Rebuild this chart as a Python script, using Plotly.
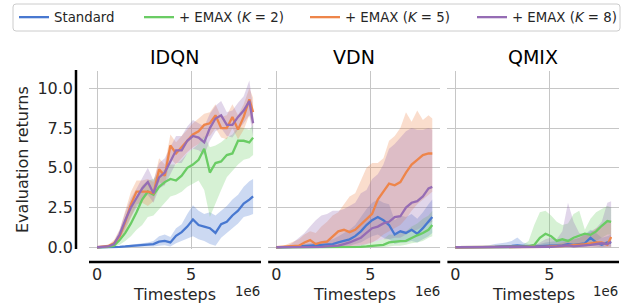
import plotly.graph_objects as go

# ---------------- data (timesteps in units of 1e6) ----------------
TIMESTEPS = [0.0, 0.3, 0.6, 0.9, 1.2, 1.5, 1.8, 2.1, 2.4, 2.7, 3.0, 3.3, 3.6, 3.9, 4.2,
             4.5, 4.8, 5.1, 5.4, 5.7, 6.0, 6.3, 6.6, 6.9, 7.2, 7.5, 7.8, 8.1, 8.3]

PANELS = ["IDQN", "VDN", "QMIX"]
SERIES = ["Standard", "+ EMAX (<i>K</i> = 2)", "+ EMAX (<i>K</i> = 5)", "+ EMAX (<i>K</i> = 8)"]
COLORS = ["#4878d0", "#6acc64", "#ee854a", "#956cb4"]
X_TICKS = [0, 5]
X_TICK_LABELS = ["0", "5"]
Y_TICKS = [0, 2.5, 5, 7.5, 10]
Y_TICK_LABELS = ["0.0", "2.5", "5.0", "7.5", "10.0"]

# IDQN
IDQN_STD_MEAN = [0, 0, 0, 0.01, 0.03, 0.05, 0.08, 0.1, 0.12, 0.15, 0.2, 0.35, 0.4, 0.3, 0.72, 0.95, 1.3, 1.75, 1.4, 1.3, 1.2, 0.9, 1.45, 1.6, 2.0, 2.3, 2.75, 3.0, 3.2]
IDQN_STD_LO = [0, 0, 0, 0, 0, 0, 0.02, 0.02, 0.03, 0.05, 0.05, 0.1, 0.12, 0.05, 0.25, 0.35, 0.55, 0.7, 0.5, 0.4, 0.2, 0.1, 0.6, 0.9, 1.2, 1.5, 1.9, 2.0, 2.1]
IDQN_STD_HI = [0, 0, 0.01, 0.03, 0.07, 0.12, 0.18, 0.22, 0.25, 0.3, 0.4, 0.7, 0.8, 0.65, 1.2, 1.45, 2.1, 2.65, 2.3, 2.1, 2.2, 2.0, 2.3, 2.6, 3.0, 3.3, 3.8, 4.15, 4.3]
IDQN_K2_MEAN = [0, 0, 0.02, 0.1, 0.45, 0.9, 1.5, 2.2, 3.0, 3.5, 3.3, 3.8, 4.1, 4.3, 4.2, 4.5, 5.0, 5.2, 5.5, 6.2, 4.7, 5.3, 5.4, 5.8, 5.9, 6.7, 6.7, 6.6, 6.9]
IDQN_K2_LO = [0, 0, 0, 0.02, 0.15, 0.4, 0.7, 1.1, 1.4, 1.9, 2.0, 2.4, 2.8, 3.2, 3.3, 3.5, 3.8, 4.0, 4.2, 3.6, 1.9, 2.8, 3.6, 4.4, 4.8, 5.2, 5.5, 5.6, 5.8]
IDQN_K2_HI = [0, 0.01, 0.05, 0.25, 0.8, 1.5, 2.4, 3.2, 3.9, 4.2, 4.3, 4.7, 4.9, 5.2, 5.2, 5.5, 5.9, 6.2, 6.5, 7.0, 6.3, 6.4, 6.6, 6.9, 7.1, 7.6, 7.5, 7.4, 7.7]
IDQN_K5_MEAN = [0, 0.02, 0.08, 0.25, 0.7, 1.6, 2.7, 3.5, 3.5, 3.5, 3.4, 4.9, 4.5, 6.4, 5.9, 6.3, 6.7, 7.1, 7.3, 7.7, 7.8, 8.3, 7.5, 7.5, 8.2, 7.4, 8.2, 9.3, 8.5]
IDQN_K5_LO = [0, 0, 0.03, 0.1, 0.4, 1.0, 1.9, 2.7, 2.8, 2.6, 2.9, 4.1, 3.9, 5.6, 5.2, 5.6, 6.0, 6.3, 6.5, 6.9, 7.0, 7.5, 6.9, 6.8, 7.5, 6.8, 7.4, 8.3, 7.6]
IDQN_K5_HI = [0, 0.05, 0.15, 0.45, 1.1, 2.3, 3.5, 4.2, 4.2, 4.3, 4.1, 5.6, 5.2, 7.1, 6.6, 7.0, 7.4, 7.8, 8.1, 8.4, 8.5, 9.0, 8.2, 8.3, 9.0, 8.3, 9.0, 10.0, 9.4]
IDQN_K8_MEAN = [0, 0.01, 0.05, 0.2, 0.8, 1.7, 2.5, 3.1, 3.7, 4.1, 3.4, 4.4, 4.7, 5.4, 6.1, 6.1, 6.7, 7.0, 6.9, 6.6, 7.5, 8.1, 8.3, 7.7, 7.7, 8.2, 8.6, 9.2, 7.8]
IDQN_K8_LO = [0, 0, 0.02, 0.1, 0.5, 1.2, 1.9, 2.5, 3.0, 3.3, 2.8, 3.7, 3.9, 4.6, 5.3, 5.3, 5.9, 6.2, 6.1, 5.8, 6.7, 7.3, 7.5, 7.0, 6.9, 7.4, 7.8, 8.3, 7.0]
IDQN_K8_HI = [0, 0.03, 0.1, 0.35, 1.1, 2.2, 3.1, 3.7, 4.4, 5.0, 4.2, 5.3, 5.6, 6.3, 7.0, 7.0, 7.6, 8.0, 7.8, 7.6, 8.4, 8.9, 9.2, 8.5, 8.6, 9.1, 9.5, 10.5, 8.8]

# VDN
VDN_STD_MEAN = [0, 0, 0.02, 0.03, 0.05, 0.08, 0.1, 0.12, 0.15, 0.18, 0.2, 0.3, 0.4, 0.5, 0.7, 1.0, 1.4, 1.7, 1.9, 1.7, 1.4, 0.8, 1.0, 0.9, 1.1, 0.85, 1.2, 1.6, 1.9]
VDN_STD_LO = [0, 0, 0, 0, 0, 0, 0, 0, 0, 0, 0.02, 0.05, 0.08, 0.1, 0.2, 0.3, 0.5, 0.7, 0.8, 0.6, 0.5, 0.2, 0.3, 0.3, 0.4, 0.3, 0.5, 0.7, 0.9]
VDN_STD_HI = [0, 0.02, 0.08, 0.1, 0.12, 0.2, 0.25, 0.3, 0.4, 0.45, 0.5, 0.7, 0.9, 1.1, 1.4, 1.9, 2.4, 2.8, 3.0, 2.8, 2.7, 1.7, 2.0, 1.9, 2.1, 1.8, 2.2, 2.7, 3.0]
VDN_K2_MEAN = [0, 0, 0, 0, 0, 0, 0, 0, 0, 0, 0, 0, 0.01, 0.02, 0.02, 0.03, 0.05, 0.08, 0.1, 0.15, 0.3, 0.35, 0.38, 0.4, 0.6, 0.75, 0.9, 1.1, 1.4]
VDN_K2_LO = [0, 0, 0, 0, 0, 0, 0, 0, 0, 0, 0, 0, 0, 0, 0, 0, 0, 0, 0, 0, 0.05, 0.1, 0.1, 0.15, 0.25, 0.3, 0.4, 0.6, 0.7]
VDN_K2_HI = [0, 0, 0, 0, 0, 0, 0, 0, 0, 0, 0, 0.02, 0.03, 0.05, 0.1, 0.15, 0.2, 0.3, 0.4, 0.5, 0.8, 0.8, 0.9, 1.0, 1.3, 1.5, 1.8, 2.0, 2.3]
VDN_K5_MEAN = [0, 0.02, 0.05, 0.08, 0.1, 0.3, 0.45, 0.2, 0.3, 0.35, 0.66, 1.0, 1.1, 0.95, 1.1, 1.45, 1.8, 2.1, 3.0, 3.5, 4.0, 3.9, 4.1, 4.7, 5.2, 5.5, 5.8, 5.9, 5.9]
VDN_K5_LO = [0, 0, 0, 0, 0, 0, 0, 0, 0, 0, 0, 0, 0.02, 0.05, 0.1, 0.15, 0.2, 0.3, 0.5, 0.8, 1.0, 1.2, 1.4, 1.8, 2.3, 2.7, 3.0, 3.3, 3.5]
VDN_K5_HI = [0, 0.05, 0.2, 0.35, 0.5, 0.8, 1.0, 0.9, 1.3, 1.6, 2.0, 2.2, 2.7, 3.2, 3.4, 4.2, 5.0, 5.3, 5.3, 5.6, 6.7, 7.0, 7.5, 8.5, 7.9, 8.6, 8.0, 8.3, 8.1]
VDN_K8_MEAN = [0, 0, 0, 0, 0, 0, 0.01, 0.02, 0.03, 0.05, 0.08, 0.1, 0.2, 0.3, 0.45, 0.6, 0.9, 1.2, 1.3, 1.5, 1.6, 1.9, 1.95, 2.5, 2.8, 2.9, 3.2, 3.7, 3.8]
VDN_K8_LO = [0, 0, 0, 0, 0, 0, 0, 0, 0, 0, 0, 0, 0, 0, 0.05, 0.1, 0.2, 0.3, 0.4, 0.5, 0.5, 0.6, 0.6, 0.8, 1.0, 1.1, 1.3, 1.5, 1.6]
VDN_K8_HI = [0, 0.02, 0.1, 0.3, 0.6, 0.9, 1.3, 1.7, 2.0, 2.1, 2.3, 2.3, 2.4, 2.6, 2.8, 3.4, 3.6, 4.3, 4.6, 5.2, 6.2, 6.5, 6.9, 7.3, 7.5, 7.4, 7.4, 7.5, 7.4]

# QMIX
QMIX_STD_MEAN = [0, 0, 0, 0, 0, 0.01, 0.02, 0.03, 0.05, 0.05, 0.08, 0.12, 0.08, 0.05, 0.05, 0.05, 0.08, 0.1, 0.1, 0.12, 0.2, 0.15, 0.2, 0.25, 0.6, 0.3, 0.15, 0.3, 0.3]
QMIX_STD_LO = [0, 0, 0, 0, 0, 0, 0, 0, 0, 0, 0, 0, 0, 0, 0, 0, 0, 0, 0, 0, 0, 0, 0.02, 0.05, 0.1, 0.05, 0, 0.05, 0.05]
QMIX_STD_HI = [0, 0, 0.02, 0.03, 0.05, 0.08, 0.12, 0.2, 0.25, 0.3, 0.4, 0.62, 0.3, 0.2, 0.2, 0.2, 0.3, 0.35, 0.4, 0.4, 0.5, 0.5, 0.6, 0.8, 1.1, 0.9, 0.6, 0.7, 0.8]
QMIX_K2_MEAN = [0, 0, 0, 0, 0, 0, 0.01, 0.01, 0.02, 0.02, 0.02, 0.02, 0.02, 0.05, 0.15, 0.6, 0.85, 0.7, 0.4, 0.5, 0.4, 0.6, 0.75, 0.85, 0.78, 1.0, 1.35, 1.65, 1.6]
QMIX_K2_LO = [0, 0, 0, 0, 0, 0, 0, 0, 0, 0, 0, 0, 0, 0, 0, 0, 0, 0, 0, 0, 0.05, 0.1, 0.2, 0.3, 0.3, 0.4, 0.6, 0.8, 0.8]
QMIX_K2_HI = [0, 0, 0, 0, 0.02, 0.03, 0.05, 0.05, 0.08, 0.08, 0.1, 0.1, 0.15, 0.4, 1.4, 2.2, 2.3, 2.0, 1.6, 1.4, 1.5, 2.1, 2.3, 1.1, 1.8, 2.2, 2.4, 2.6, 2.5]
QMIX_K5_MEAN = [0, 0, 0, 0, 0, 0, 0, 0, 0, 0, 0, 0, 0, 0, 0.01, 0.02, 0.03, 0.05, 0.05, 0.08, 0.1, 0.12, 0.15, 0.2, 0.25, 0.3, 0.3, 0.15, 0.65]
QMIX_K5_LO = [0, 0, 0, 0, 0, 0, 0, 0, 0, 0, 0, 0, 0, 0, 0, 0, 0, 0, 0, 0, 0, 0, 0, 0, 0, 0, 0, 0, 0]
QMIX_K5_HI = [0, 0, 0, 0, 0, 0, 0, 0, 0, 0, 0, 0, 0, 0.02, 0.05, 0.08, 0.1, 0.15, 0.2, 0.3, 0.4, 0.5, 0.6, 0.8, 0.9, 1.2, 1.4, 1.6, 1.7]
QMIX_K8_MEAN = [0, 0, 0, 0, 0, 0, 0, 0, 0, 0, 0, 0, 0, 0, 0, 0, 0.02, 0.03, 0.05, 0.08, 0.12, 0.05, 0.1, 0.12, 0.15, 0.2, 0.25, 0.2, 0.35]
QMIX_K8_LO = [0, 0, 0, 0, 0, 0, 0, 0, 0, 0, 0, 0, 0, 0, 0, 0, 0, 0, 0, 0, 0, 0, 0, 0, 0, 0, 0, 0, 0]
QMIX_K8_HI = [0, 0, 0, 0, 0, 0, 0, 0, 0, 0, 0, 0, 0, 0.05, 0.1, 0.3, 0.5, 0.6, 0.5, 1.0, 2.8, 1.6, 0.9, 0.8, 1.0, 1.2, 1.6, 2.8, 2.9]

DATA = {
    "IDQN": [(IDQN_STD_MEAN, IDQN_STD_LO, IDQN_STD_HI), (IDQN_K2_MEAN, IDQN_K2_LO, IDQN_K2_HI),
             (IDQN_K5_MEAN, IDQN_K5_LO, IDQN_K5_HI), (IDQN_K8_MEAN, IDQN_K8_LO, IDQN_K8_HI)],
    "VDN": [(VDN_STD_MEAN, VDN_STD_LO, VDN_STD_HI), (VDN_K2_MEAN, VDN_K2_LO, VDN_K2_HI),
            (VDN_K5_MEAN, VDN_K5_LO, VDN_K5_HI), (VDN_K8_MEAN, VDN_K8_LO, VDN_K8_HI)],
    "QMIX": [(QMIX_STD_MEAN, QMIX_STD_LO, QMIX_STD_HI), (QMIX_K2_MEAN, QMIX_K2_LO, QMIX_K2_HI),
             (QMIX_K5_MEAN, QMIX_K5_LO, QMIX_K5_HI), (QMIX_K8_MEAN, QMIX_K8_LO, QMIX_K8_HI)],
}

# ---------------- layout geometry ----------------
W, H = 625, 305
ML, MR, MT, MB = 89, 6, 71, 56
PW = W - ML - MR          # plot width (px)
PH = H - MT - MB          # plot height (px)
DOMAINS = [[0.0, 0.3245], [0.3381, 0.6626], [0.6762, 1.0]]
FONT = "DejaVu Sans"


def rgba(hex_color, a):
    h = hex_color.lstrip("#")
    r, g, b = int(h[0:2], 16), int(h[2:4], 16), int(h[4:6], 16)
    return f"rgba({r},{g},{b},{a})"


def py_to_paper(py):
    return (MT + PH - py) / PH


def px_to_paper(px):
    return (px - ML) / PW


fig = go.Figure()

for i, panel in enumerate(PANELS):
    xa = "x" if i == 0 else f"x{i+1}"
    ya = "y" if i == 0 else f"y{i+1}"
    for j, (mean, lo, hi) in enumerate(DATA[panel]):
        fig.add_trace(go.Scatter(
            x=TIMESTEPS + TIMESTEPS[::-1], y=hi + lo[::-1],
            fill="toself", fillcolor=rgba(COLORS[j], 0.28),
            line=dict(width=0), mode="lines", hoverinfo="skip",
            showlegend=False, xaxis=xa, yaxis=ya))
    for j, (mean, lo, hi) in enumerate(DATA[panel]):
        fig.add_trace(go.Scatter(
            x=TIMESTEPS, y=mean, mode="lines",
            line=dict(color=COLORS[j], width=2.3),
            name=SERIES[j], showlegend=(i == 0),
            legend="legend" if j == 0 else f"legend{j+1}",
            xaxis=xa, yaxis=ya))

axis_common = dict(showline=False, zeroline=False, ticks="",
                   showgrid=True, gridcolor="#c6c6c6", gridwidth=1)

layout = dict(
    width=W, height=H,
    margin=dict(l=ML, r=MR, t=MT, b=MB),
    paper_bgcolor="white", plot_bgcolor="white",
    font=dict(family=FONT, size=16, color="#262626"),
    annotations=[], shapes=[],
)

for i in range(3):
    xk = "xaxis" if i == 0 else f"xaxis{i+1}"
    yk = "yaxis" if i == 0 else f"yaxis{i+1}"
    layout[xk] = dict(axis_common, domain=DOMAINS[i], range=[-0.43, 8.72],
                      tickvals=X_TICKS, ticktext=X_TICK_LABELS,
                      anchor="y" if i == 0 else f"y{i+1}",
                      ticklabelstandoff=14, tickfont=dict(size=16, color="#262626"))
    layout[yk] = dict(axis_common, domain=[0, 1], range=[-0.11, 11.09],
                      tickvals=Y_TICKS, ticktext=Y_TICK_LABELS,
                      anchor="x" if i == 0 else f"x{i+1}",
                      showticklabels=(i == 0),
                      ticklabelstandoff=15, tickfont=dict(size=16, color="#262626"))
    if i > 0:
        layout[yk]["matches"] = "y"

    d0, d1 = DOMAINS[i]
    layout["annotations"].append(dict(
        text=PANELS[i], x=(d0 + d1) / 2, y=py_to_paper(57), xref="paper", yref="paper",
        showarrow=False, xanchor="center", yanchor="middle",
        font=dict(size=19, color="#000000")))
    layout["annotations"].append(dict(
        text="Timesteps", x=(d0 + d1) / 2, y=py_to_paper(294), xref="paper", yref="paper",
        showarrow=False, xanchor="center", yanchor="middle",
        font=dict(size=16, color="#262626")))
    layout["annotations"].append(dict(
        text="1e6", x=d0 + 0.924 * (d1 - d0), y=py_to_paper(291), xref="paper", yref="paper",
        showarrow=False, xanchor="center", yanchor="middle",
        font=dict(size=13.3, color="#262626")))
    layout["shapes"].append(dict(
        type="line", xref=f"x{'' if i == 0 else i+1} domain", yref="paper",
        x0=0, x1=1, y0=py_to_paper(262), y1=py_to_paper(262),
        line=dict(color="black", width=2.5)))

layout["annotations"].append(dict(
    text="Evaluation returns", x=px_to_paper(22), y=0.5, xref="paper", yref="paper",
    showarrow=False, textangle=-90, xanchor="center", yanchor="middle",
    font=dict(size=16, color="#262626")))

layout["shapes"].append(dict(
    type="line", xref="paper", yref="paper",
    x0=px_to_paper(76), x1=px_to_paper(76), y0=0, y1=py_to_paper(70),
    line=dict(color="black", width=2.5)))

# legend frame (rounded)
lx0, lx1 = px_to_paper(13), px_to_paper(620)
ly0, ly1 = py_to_paper(31), py_to_paper(4)
rx, ry = 3 / PW, 3 / PH
path = (f"M{lx0+rx},{ly1} L{lx1-rx},{ly1} Q{lx1},{ly1} {lx1},{ly1-ry} "
        f"L{lx1},{ly0+ry} Q{lx1},{ly0} {lx1-rx},{ly0} "
        f"L{lx0+rx},{ly0} Q{lx0},{ly0} {lx0},{ly0+ry} "
        f"L{lx0},{ly1-ry} Q{lx0},{ly1} {lx0+rx},{ly1} Z")
layout["shapes"].append(dict(type="path", path=path, xref="paper", yref="paper",
                             line=dict(color="#cccccc", width=1),
                             fillcolor="rgba(255,255,255,0.8)", layer="above"))

LEGEND_X = [14, 139, 305, 472]
for j in range(4):
    key = "legend" if j == 0 else f"legend{j+1}"
    layout[key] = dict(
        orientation="h", xref="container", yref="container",
        x=LEGEND_X[j] / W, y=1 - 17.5 / H, xanchor="left", yanchor="middle",
        bgcolor="rgba(0,0,0,0)", borderwidth=0,
        font=dict(family=FONT, size=13.3, color="#262626"),
        itemclick=False, itemdoubleclick=False)

fig.update_layout(**layout)
fig.write_html("out.html", config={"displayModeBar": False},
               post_script="document.body.style.margin='0';")
